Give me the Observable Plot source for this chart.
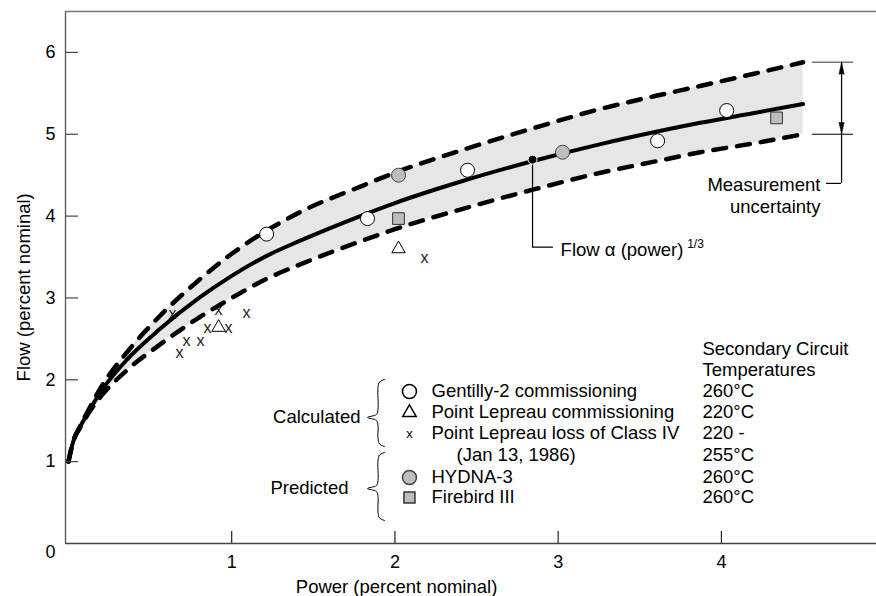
<!DOCTYPE html>
<html>
<head>
<meta charset="utf-8">
<script src="https://cdn.jsdelivr.net/npm/d3@7"></script>
<script src="https://cdn.jsdelivr.net/npm/@observablehq/plot@0.6"></script>
<style>
  html, body { margin: 0; padding: 0; background: white; }
  #chart { width: 876px; height: 596px; }
</style>
</head>
<body>
<div id="chart"></div>
<script>
// ---------- Data ----------
const curvePower  = [0, 0.03, 0.07, 0.12, 0.2, 0.36, 0.56, 0.8, 1.0, 1.22, 1.42, 1.8, 2.0, 2.4, 2.84, 3.26, 3.6, 3.87, 4.2, 4.5];
const curveCenter = [1.0, 1.25, 1.42, 1.6, 1.86, 2.25, 2.62, 3.0, 3.27, 3.52, 3.7, 4.01, 4.16, 4.42, 4.67, 4.88, 5.03, 5.14, 5.26, 5.37];
const curveUpper  = [1.0, 1.25, 1.43, 1.62, 1.91, 2.34, 2.78, 3.22, 3.54, 3.83, 4.05, 4.37, 4.53, 4.8, 5.07, 5.31, 5.47, 5.59, 5.74, 5.88];
const curveLower  = [1.0, 1.25, 1.41, 1.58, 1.80, 2.12, 2.43, 2.76, 3.0, 3.24, 3.41, 3.7, 3.84, 4.08, 4.32, 4.53, 4.67, 4.78, 4.89, 5.0];

const gentillyPower = [1.214, 1.832, 2.445, 3.609, 4.032];
const gentillyFlow  = [3.78, 3.97, 4.56, 4.92, 5.29];

const lepreauCommPower = [0.92, 2.022];
const lepreauCommFlow  = [2.64, 3.60];

const lepreauLossPower = [0.637, 0.68, 0.723, 0.809, 0.852, 0.92, 0.981, 1.091, 2.181];
const lepreauLossFlow  = [2.81, 2.33, 2.48, 2.48, 2.64, 2.86, 2.64, 2.82, 3.49];

const hydnaPower = [2.022, 3.027];
const hydnaFlow  = [4.50, 4.78];

const firebirdPower = [2.022, 4.338];
const firebirdFlow  = [3.97, 5.20];

const xTicks = [1, 2, 3, 4];
const yTicks = [1, 2, 3, 4, 5, 6];

const legendLabels = ["Gentilly-2 commissioning", "Point Lepreau commissioning", "Point Lepreau loss of Class IV", "(Jan 13, 1986)", "HYDNA-3", "Firebird III"];
const tempLabels = ["Secondary Circuit", "Temperatures", "260°C", "220°C", "220 -", "255°C", "260°C", "260°C"];

// ---------- Layout ----------
const W = 876, H = 596, mL = 65, mR = 0, mT = 11, mB = 53;
const xDomain = [-0.018, 4.95], yDomain = [0, 6.5];
const kx = (W - mL - mR) / (xDomain[1] - xDomain[0]);
const ky = (H - mT - mB) / (yDomain[1] - yDomain[0]);
const x0 = xDomain[0];
const FS = 18.5;

const curve = curvePower.map((p, i) => ({p, c: curveCenter[i], u: curveUpper[i], l: curveLower[i]}));
const pts = (P, F) => P.map((p, i) => ({p, f: F[i]}));

// legend rows (flow units)
const rowY = [1.857, 1.60, 1.344, 1.075, 0.806, 0.562];
const tempRowY = [2.37, 2.114, 1.857, 1.60, 1.344, 1.075, 0.806, 0.562];
const legSymX = 2.089, legTextX = 2.224, tempX = 3.884;

// curly brace built in pixel offsets, converted into data units
function brace(tipP, topF, botF, tipF) {
  const top = 0, tip = (topF - tipF) * ky, bot = (topF - botF) * ky;
  const px = [[17, top], [12, top + 2.5], [10.5, top + 8], [10.5, tip - 8], [9, tip - 3], [0, tip],
              [9, tip + 3], [10.5, tip + 8], [10.5, bot - 8], [12, bot - 2.5], [17, bot]];
  return px.map(([dx, dy]) => ({p: tipP + dx / kx, f: topF - dy / ky}));
}

const upEnd = curveUpper[curveUpper.length - 1], loEnd = curveLower[curveLower.length - 1];
const muX1 = 4.558, muX2 = 4.809, muV = 4.736, muLow = 4.40, muHook = 4.644;
const dotP = 2.843, dotF = 4.69, calloutF = 3.62, calloutEnd = 2.965;

const chart = Plot.plot({
  width: W, height: H,
  marginLeft: mL, marginRight: mR, marginTop: mT, marginBottom: mB,
  x: {domain: xDomain},
  y: {domain: yDomain},
  style: {fontFamily: "'Liberation Sans', Arial, Helvetica, sans-serif", fontSize: FS + "px", color: "black", background: "white"},
  marks: [
    // uncertainty band
    Plot.areaY(curve, {x: "p", y1: "l", y2: "u", fill: "#e6e6e6", curve: "monotone-x"}),
    // 'x' markers (partly hidden behind lines)
    Plot.text(pts(lepreauLossPower, lepreauLossFlow), {x: "p", y: "f", text: () => "x", fontSize: 16, fill: "#222"}),
    // dashed bounds
    Plot.line(curve, {x: "p", y: "u", stroke: "black", strokeWidth: 4.5, strokeDasharray: "13,11", strokeLinecap: "round", curve: "monotone-x"}),
    Plot.line(curve, {x: "p", y: "l", stroke: "black", strokeWidth: 4.5, strokeDasharray: "13,11", strokeLinecap: "round", curve: "monotone-x"}),
    // central curve
    Plot.line(curve, {x: "p", y: "c", stroke: "black", strokeWidth: 4, curve: "monotone-x"}),
    // frame / axes lines
    Plot.ruleX([x0], {stroke: "#555", strokeWidth: 1.3}),
    Plot.ruleY([yDomain[1]], {stroke: "#777", strokeWidth: 1.3}),
    Plot.ruleY([0], {stroke: "#444", strokeWidth: 1.3}),
    Plot.ruleY(yTicks, {x1: x0, x2: x0 + 13 / kx, stroke: "#444", strokeWidth: 1.2}),
    Plot.ruleX(xTicks, {y1: 0, y2: 12 / ky, stroke: "#222", strokeWidth: 1.2}),
    Plot.axisY({ticks: yTicks, tickSize: 0, tickPadding: 10, fontSize: 18, tickFormat: d3.format("d"), label: null}),
    Plot.axisY({ticks: [0], tickSize: 0, tickPadding: 10, fontSize: 18, tickFormat: d3.format("d"), label: null, dy: 9}),
    Plot.axisX({ticks: xTicks, tickSize: 0, tickPadding: 12, fontSize: 18, tickFormat: d3.format("d"), label: null}),
    Plot.text(["Power (percent nominal)"], {x: 2.01, y: 0, dy: 44, fontSize: FS}),
    Plot.text(["Flow (percent nominal)"], {x: x0, y: 3.13, dx: -41.5, rotate: -90, fontSize: FS}),
    // data markers
    Plot.dot(pts(lepreauCommPower, lepreauCommFlow), {x: "p", y: "f", symbol: "triangle", r: 5, fill: "white", stroke: "black", strokeWidth: 1}),
    Plot.dot(pts(gentillyPower, gentillyFlow), {x: "p", y: "f", symbol: "circle", r: 7, fill: "white", stroke: "black", strokeWidth: 1}),
    Plot.dot(pts(hydnaPower, hydnaFlow), {x: "p", y: "f", symbol: "circle", r: 7, fill: "#bdbdbd", stroke: "#444", strokeWidth: 1}),
    Plot.dot(pts(firebirdPower, firebirdFlow), {x: "p", y: "f", symbol: "square", r: 6.6, fill: "#bdbdbd", stroke: "#333", strokeWidth: 1}),
    // callout for the fitted curve
    Plot.line([{p: dotP, f: dotF}, {p: dotP, f: calloutF}, {p: calloutEnd, f: calloutF}], {x: "p", y: "f", stroke: "black", strokeWidth: 1.2}),
    Plot.dot([{p: dotP, f: dotF}], {x: "p", y: "f", r: 4.5, fill: "black", stroke: "white", strokeWidth: 1}),
    Plot.text(["Flow α (power)"], {x: 3.015, y: 3.585, textAnchor: "start", fontSize: FS}),
    Plot.text(["1/3"], {x: 3.79, y: 3.66, textAnchor: "start", fontSize: 12}),
    // measurement uncertainty annotation
    Plot.ruleY([upEnd], {x1: muX1, x2: muX2, stroke: "#777", strokeWidth: 1.3}),
    Plot.ruleY([loEnd], {x1: muX1, x2: muX2, stroke: "black", strokeWidth: 1.2}),
    Plot.ruleX([muV], {y1: upEnd, y2: muLow, stroke: "black", strokeWidth: 1.2}),
    Plot.ruleY([muLow], {x1: muHook, x2: muV, stroke: "black", strokeWidth: 1.2}),
    Plot.vector([{p: muV, f: upEnd, r: 0}, {p: muV, f: loEnd, r: 180}], {x: "p", y: "f", rotate: "r", length: 12, shape: "spike", r: 2.6, anchor: "end", fill: "black", stroke: "black", strokeWidth: 0.5}),
    Plot.text(["Measurement", "uncertainty"], {x: 4.607, y: (d, i) => [4.374, 4.105][i], textAnchor: "end", fontSize: FS}),
    // legend
    Plot.text(["Calculated"], {x: 1.789, y: 1.54, textAnchor: "end", fontSize: FS}),
    Plot.text(["Predicted"], {x: 1.716, y: 0.672, textAnchor: "end", fontSize: FS}),
    Plot.line(brace(1.832, 2.004, 1.185, 1.54), {x: "p", y: "f", stroke: "black", strokeWidth: 1, curve: "catmull-rom"}),
    Plot.line(brace(1.832, 1.112, 0.281, 0.672), {x: "p", y: "f", stroke: "black", strokeWidth: 1, curve: "catmull-rom"}),
    Plot.dot([rowY[0]], {x: legSymX, y: d => d, symbol: "circle", r: 7, fill: "white", stroke: "black"}),
    Plot.dot([rowY[1]], {x: legSymX, y: d => d, symbol: "triangle", r: 5, fill: "white", stroke: "black"}),
    Plot.text([rowY[2]], {x: legSymX, y: d => d, text: () => "x", fontSize: 13}),
    Plot.dot([rowY[4]], {x: legSymX, y: d => d, symbol: "circle", r: 7, fill: "#bdbdbd", stroke: "#444"}),
    Plot.dot([rowY[5]], {x: legSymX, y: d => d, symbol: "square", r: 6.2, fill: "#bdbdbd", stroke: "#333"}),
    Plot.text(legendLabels, {x: (d, i) => i === 3 ? 2.377 : legTextX, y: (d, i) => rowY[i], textAnchor: "start", fontSize: FS}),
    Plot.text(tempLabels, {x: tempX, y: (d, i) => tempRowY[i], textAnchor: "start", fontSize: FS})
  ]
});
document.getElementById("chart").appendChild(chart);
</script>
</body>
</html>
